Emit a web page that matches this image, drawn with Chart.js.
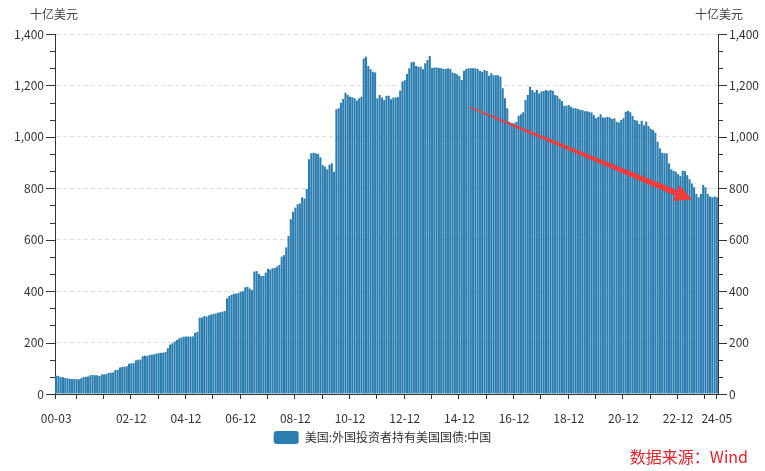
<!DOCTYPE html>
<html>
<head>
<meta charset="utf-8">
<script src="https://cdn.jsdelivr.net/npm/chart.js@4.4.1/dist/chart.umd.min.js"></script>
<style>
  html, body { margin: 0; padding: 0; background: #fff; }
  #wrap { width: 765px; height: 471px; }
</style>
</head>
<body>
<div id="wrap"><canvas id="chart" width="765" height="471"></canvas></div>
<script>
// 美国:外国投资者持有美国国债:中国 (十亿美元), 月度 2000-03 ~ 2024-05
const startYear = 2000;
const startMonth = 3;
const holdings = [
  // 2000 (03-12)
  71, 70, 66, 65, 62, 61, 59, 58, 58, 58,
  // 2001
  57, 61, 66, 67, 68, 73, 74, 73, 73, 70, 76, 76,
  // 2002
  77, 82, 83, 84, 93, 94, 103, 105, 106, 108, 118, 119,
  // 2003
  120, 131, 133, 134, 147, 149, 148, 152, 153, 154, 157, 159,
  // 2004
  160, 161, 163, 178, 192, 197, 204, 210, 216, 220, 223, 223,
  // 2005
  224, 223, 224, 238, 242, 297, 297, 303, 301, 306, 309, 311,
  // 2006
  313, 316, 318, 320, 323, 372, 381, 386, 390, 390, 393, 397,
  // 2007
  400, 415, 417, 410, 404, 476, 478, 467, 459, 459, 472, 487,
  // 2008
  484, 489, 490, 496, 502, 534, 540, 570, 614, 680, 709, 725,
  // 2009
  738, 741, 765, 760, 797, 913, 936, 938, 936, 933, 920, 890,
  // 2010
  884, 874, 892, 897, 864, 1107, 1111, 1133, 1147, 1172, 1163, 1156,
  // 2011
  1154, 1150, 1141, 1150, 1156, 1305, 1312, 1276, 1263, 1253, 1250, 1150,
  // 2012
  1163, 1153, 1143, 1160, 1160, 1146, 1153, 1153, 1155, 1180, 1215, 1220,
  // 2013
  1244, 1267, 1290, 1292, 1276, 1273, 1273, 1263, 1286, 1299, 1314, 1268,
  // 2014
  1270, 1270, 1268, 1267, 1264, 1264, 1267, 1264, 1250, 1247, 1243, 1237,
  // 2015
  1221, 1256, 1264, 1267, 1267, 1267, 1267, 1264, 1256, 1253, 1260, 1256,
  // 2016
  1238, 1247, 1240, 1240, 1240, 1234, 1189, 1150, 1111, 1059, 1053, 1053,
  // 2017
  1059, 1082, 1088, 1096, 1143, 1163, 1195, 1182, 1173, 1182, 1169, 1176,
  // 2018
  1178, 1182, 1178, 1182, 1179, 1163, 1160, 1148, 1139, 1121, 1121, 1124,
  // 2019
  1117, 1111, 1111, 1108, 1104, 1104, 1100, 1100, 1098, 1095, 1085, 1072,
  // 2020
  1078, 1088, 1075, 1075, 1078, 1075, 1069, 1072, 1059, 1056, 1066, 1072,
  // 2021
  1098, 1102, 1096, 1081, 1066, 1063, 1050, 1063, 1045, 1060, 1042, 1032,
  // 2022
  1027, 1016, 981, 955, 938, 936, 936, 897, 874, 868, 864, 855,
  // 2023
  847, 868, 867, 851, 835, 819, 804, 778, 765, 778, 813, 804,
  // 2024 (01-05)
  778, 768, 765, 768, 765
];

// 类目: "yy-mm"
const categories = [];
for (let k = 0; k < holdings.length; k++) {
  const m = startMonth - 1 + k;
  const yy = (startYear + Math.floor(m / 12)) % 100;
  const mm = m % 12 + 1;
  categories.push(String(yy).padStart(2, '0') + '-' + String(mm).padStart(2, '0'));
}

const tickLabels = ['00-03', '02-12', '04-12', '06-12', '08-12', '10-12', '12-12',
                    '14-12', '16-12', '18-12', '20-12', '22-12', '24-05'];
const yMax = 1400;
const yStep = 200;
const minorPerStep = 3;
const seriesName = '美国:外国投资者持有美国国债:中国';
const unitText = '十亿美元';
const sourceText = '数据来源：Wind';
// 箭头 (类目序号, 数值)
const arrowFrom = [181.4, 1116];
const arrowTo = [279.1, 756];

const barColor = '#2b7db0';
const axisColor = '#333333';
const textColor = '#333333';

Chart.defaults.font.family = '"Noto Sans CJK SC", "Noto Sans", sans-serif';
Chart.defaults.font.size = 12;
Chart.defaults.color = textColor;

function fmt(v) {
  return Number(v).toLocaleString('en-US');
}

// 刻度线、单位、数据来源、箭头
const decorations = {
  id: 'decorations',
  afterDatasetsDraw(chart) {
    const ctx = chart.ctx;
    const x = chart.scales.x;
    const y = chart.scales.y;
    const p0x = x.getPixelForValue(arrowFrom[0]);
    const p0y = y.getPixelForValue(arrowFrom[1]);
    const p1x = x.getPixelForValue(arrowTo[0]);
    const p1y = y.getPixelForValue(arrowTo[1]);
    const dx = p1x - p0x, dy = p1y - p0y;
    const len = Math.sqrt(dx * dx + dy * dy);
    const ux = dx / len, uy = dy / len;
    const nx = -uy, ny = ux;
    const headLen = 17, headHalf = 8.5, w0 = 0.7, w1 = 3;
    const bx = p1x - ux * headLen, by = p1y - uy * headLen;
    ctx.save();
    ctx.fillStyle = '#f03c3c';
    ctx.beginPath();
    ctx.moveTo(p0x + nx * w0, p0y + ny * w0);
    ctx.lineTo(bx + nx * w1, by + ny * w1);
    ctx.lineTo(bx + nx * headHalf, by + ny * headHalf);
    ctx.lineTo(p1x, p1y);
    ctx.lineTo(bx - nx * headHalf, by - ny * headHalf);
    ctx.lineTo(bx - nx * w1, by - ny * w1);
    ctx.lineTo(p0x - nx * w0, p0y - ny * w0);
    ctx.closePath();
    ctx.fill();
    ctx.restore();
  },
  afterDraw(chart) {
    const ctx = chart.ctx;
    const x = chart.scales.x;
    const yl = chart.scales.y;
    const area = chart.chartArea;
    ctx.save();
    ctx.strokeStyle = axisColor;
    ctx.lineWidth = 1;
    ctx.beginPath();
    // y 轴刻度
    const minor = yStep / minorPerStep;
    for (let k = 0; k <= yMax / minor + 1e-9; k++) {
      const v = k * minor;
      const major = k % minorPerStep === 0;
      const py = Math.round(yl.getPixelForValue(v)) + 0.5;
      const tl = major ? 9 : 5;
      ctx.moveTo(area.left - tl, py);
      ctx.lineTo(area.left, py);
      ctx.moveTo(area.right, py);
      ctx.lineTo(area.right + tl, py);
    }
    // x 轴刻度: 每年 12 月以及首末
    for (let k = 0; k < categories.length; k++) {
      const c = categories[k];
      if (k === 0 || k === categories.length - 1 || c.endsWith('-12')) {
        const px = Math.round(x.getPixelForValue(k - 0.5)) + 0.5;
        ctx.moveTo(px, area.bottom);
        ctx.lineTo(px, area.bottom + 5);
      }
    }
    ctx.stroke();

    ctx.fillStyle = '#444';
    ctx.font = '12px "Noto Sans CJK SC", sans-serif';
    ctx.textBaseline = 'middle';
    ctx.textAlign = 'left';
    ctx.fillText(unitText, 30, 14);
    ctx.textAlign = 'right';
    ctx.fillText(unitText, 743, 14);

    ctx.fillStyle = '#e3232b';
    ctx.font = '16px "Noto Sans CJK SC", sans-serif';
    ctx.textAlign = 'right';
    ctx.fillText(sourceText, 748, 457);
    ctx.restore();
  }
};

const yTicks = {
  stepSize: yStep,
  padding: 11,
  font: { size: 12 },
  color: textColor,
  callback: v => fmt(v)
};

new Chart(document.getElementById('chart'), {
  type: 'bar',
  data: {
    labels: categories,
    datasets: [{
      label: seriesName,
      data: holdings,
      backgroundColor: barColor,
      borderWidth: 0,
      barPercentage: 0.9,
      categoryPercentage: 1.0,
      yAxisID: 'y'
    }]
  },
  options: {
    responsive: false,
    animation: false,
    devicePixelRatio: 1,
    layout: { padding: { top: 34, left: 0, right: 0, bottom: 17 } },
    plugins: {
      legend: {
        position: 'bottom',
        labels: {
          boxWidth: 25,
          boxHeight: 13,
          useBorderRadius: true,
          borderRadius: 3,
          padding: 7,
          color: textColor,
          font: { size: 12 }
        }
      },
      tooltip: { enabled: false }
    },
    scales: {
      x: {
        type: 'category',
        offset: true,
        grid: { display: false },
        border: { display: true, color: axisColor },
        ticks: {
          autoSkip: false,
          maxRotation: 0,
          minRotation: 0,
          padding: 9,
          color: textColor,
          callback: (val, idx) => tickLabels.includes(categories[idx]) ? categories[idx] : ''
        },
        afterFit: s => { s.height = 30; }
      },
      y: {
        position: 'left',
        min: 0,
        max: yMax,
        grid: {
          drawTicks: false,
          color: c => (c.tick && c.tick.value > 0) ? '#dedede' : 'rgba(0,0,0,0)'
        },
        border: { display: true, color: axisColor, dash: [4, 3] },
        ticks: yTicks,
        afterFit: s => { s.width = 55; }
      },
      y2: {
        position: 'right',
        min: 0,
        max: yMax,
        grid: { display: false, drawTicks: false },
        border: { display: true, color: axisColor },
        ticks: yTicks,
        afterFit: s => { s.width = 47; }
      }
    }
  },
  plugins: [decorations]
});
</script>
</body>
</html>
